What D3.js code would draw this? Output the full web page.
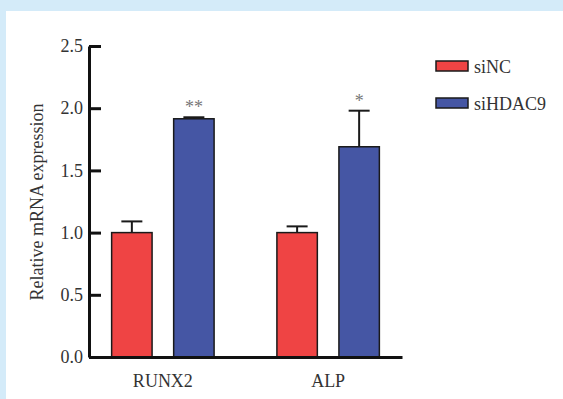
<!DOCTYPE html>
<html>
<head>
<meta charset="utf-8">
<script src="https://cdn.jsdelivr.net/npm/d3@7/dist/d3.min.js"></script>
<style>
  html, body { margin: 0; padding: 0; background: #d4ebf9; }
  svg { display: block; }
  text { font-family: "Liberation Serif", "Times New Roman", serif; }
</style>
</head>
<body>
<svg id="chart" width="563" height="399"></svg>
<script>
const categories = ["RUNX2", "ALP"];
const seriesNames = ["siNC", "siHDAC9"];
const siNC = [1.0, 1.0];
const siNCErr = [0.09, 0.05];
const siHDAC9 = [1.915, 1.69];
const siHDAC9Err = [0.012, 0.29];
const significance = ["**", "*"];
const yTicks = [0, 0.5, 1.0, 1.5, 2.0, 2.5];
const colors = ["#ef4444", "#4556a4"];

const svg = d3.select("#chart");
svg.append("rect").attr("x", 6).attr("y", 11).attr("width", 557).attr("height", 388).attr("fill", "#ffffff");

const x0 = d3.scaleBand().domain(categories).range([89, 402]).paddingInner(0.38).paddingOuter(0.137);
const x1 = d3.scaleBand().domain(seriesNames).range([0, x0.bandwidth()]).paddingInner(0.348).paddingOuter(0);
const y = d3.scaleLinear().domain([0, 2.5]).range([357, 46]);

const data = [];
categories.forEach((c, i) => {
  data.push({cat: c, s: "siNC", v: siNC[i], e: siNCErr[i], sig: null});
  data.push({cat: c, s: "siHDAC9", v: siHDAC9[i], e: siHDAC9Err[i], sig: significance[i]});
});
const color = d3.scaleOrdinal().domain(seriesNames).range(colors);

const g = svg.append("g");
// error bars
const eb = g.selectAll("g.err").data(data).enter().append("g").attr("class", "err");
eb.append("line")
  .attr("x1", d => x0(d.cat) + x1(d.s) + x1.bandwidth() / 2)
  .attr("x2", d => x0(d.cat) + x1(d.s) + x1.bandwidth() / 2)
  .attr("y1", d => y(d.v)).attr("y2", d => y(d.v + d.e))
  .attr("stroke", "#1a1a1a").attr("stroke-width", 2);
eb.append("line")
  .attr("x1", d => x0(d.cat) + x1(d.s) + x1.bandwidth() / 2 - 10.5)
  .attr("x2", d => x0(d.cat) + x1(d.s) + x1.bandwidth() / 2 + 10.5)
  .attr("y1", d => y(d.v + d.e)).attr("y2", d => y(d.v + d.e))
  .attr("stroke", "#1a1a1a").attr("stroke-width", 2);

// bars
g.selectAll("rect.bar").data(data).enter().append("rect")
  .attr("class", "bar")
  .attr("x", d => x0(d.cat) + x1(d.s))
  .attr("y", d => y(d.v))
  .attr("width", x1.bandwidth())
  .attr("height", d => y(0) - y(d.v))
  .attr("fill", d => color(d.s))
  .attr("stroke", "#1a1a1a").attr("stroke-width", 1.5);

// significance
g.selectAll("text.sig").data(data.filter(d => d.sig)).enter().append("text")
  .attr("class", "sig")
  .attr("x", d => x0(d.cat) + x1(d.s) + x1.bandwidth() / 2)
  .attr("y", d => y(d.v + d.e) - 4)
  .attr("text-anchor", "middle")
  .attr("font-size", 18).attr("fill", "#777")
  .text(d => d.sig);

// y axis
const yAxis = svg.append("g").attr("transform", "translate(89,0)")
  .call(d3.axisLeft(y).tickValues(yTicks).tickFormat(d3.format(".1f")).tickSizeInner(-12).tickSizeOuter(0).tickPadding(6));
yAxis.select(".domain").attr("stroke", "#111").attr("stroke-width", 3);
yAxis.selectAll(".tick line").attr("stroke", "#111").attr("stroke-width", 3);
yAxis.selectAll(".tick text").attr("font-size", 18).attr("fill", "#333")
  .style("font-family", "'Liberation Serif', serif");

// x axis
const xAxis = svg.append("g").attr("transform", "translate(0,357)")
  .call(d3.axisBottom(x0).tickSize(0).tickPadding(17));
xAxis.select(".domain").attr("stroke", "#111").attr("stroke-width", 3);
xAxis.selectAll(".tick text").attr("font-size", 18).attr("fill", "#333")
  .style("font-family", "'Liberation Serif', serif");

// y title
svg.append("text")
  .attr("transform", "translate(43,202) rotate(-90)")
  .attr("text-anchor", "middle")
  .attr("font-size", 18).attr("fill", "#333")
  .text("Relative mRNA expression");

// legend
const leg = svg.append("g").selectAll("g").data(seriesNames).enter().append("g")
  .attr("transform", (d, i) => `translate(436,${61 + i * 37})`);
leg.append("rect").attr("width", 32).attr("height", 10)
  .attr("fill", d => color(d)).attr("stroke", "#1a1a1a").attr("stroke-width", 1.5);
leg.append("text").attr("x", 38).attr("y", 12).attr("font-size", 18).attr("fill", "#333").text(d => d);
</script>
</body>
</html>
